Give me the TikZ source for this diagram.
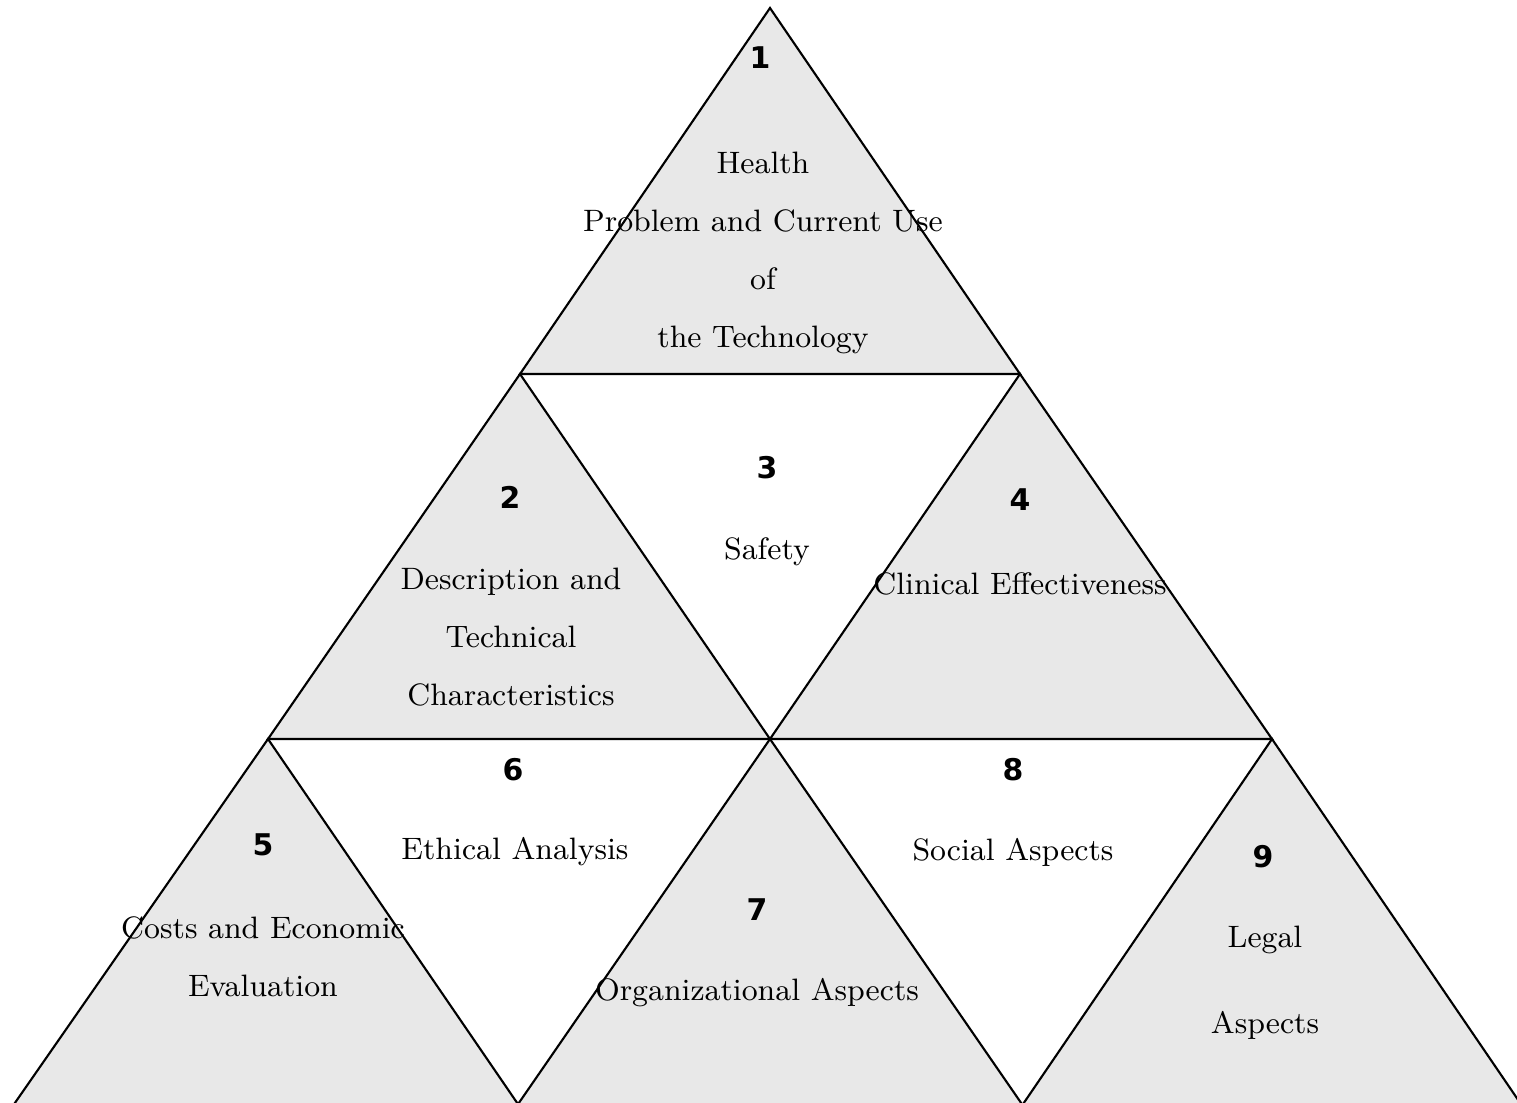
\documentclass[tikz,border=0pt]{standalone}
\usepackage{fontspec}
\newfontfamily\numfont{DejaVu Sans}
\definecolor{partgray}{HTML}{E8E8E8}
\begin{document}
\begin{tikzpicture}[x=0.01cm,y=-0.01cm,
    part/.style={fill=partgray,draw=black,line width=0.6pt},
    num/.style={font=\numfont\bfseries\fontsize{8.5}{11}\selectfont},
    txt/.style={align=center,font=\fontsize{8.8}{16.5}\selectfont}]
    \useasboundingbox (0,0) rectangle (1517,1103);
    \clip (0,0) rectangle (1517,1103);
    % corners of the pyramid
    \coordinate (A) at (770,8);
    \coordinate (B) at (520,374);
    \coordinate (C) at (1020,374);
    \coordinate (D) at (268,739);
    \coordinate (E) at (770,739);
    \coordinate (F) at (1272,739);
    \coordinate (G1) at (10,1110);
    \coordinate (G2) at (522,1110);
    \coordinate (H1) at (514,1110);
    \coordinate (H2) at (1026,1110);
    \coordinate (K1) at (1019,1110);
    \coordinate (K2) at (1525,1110);
    % grey parts
    \draw[part] (A) -- (B) -- (C) -- cycle;
    \draw[part] (B) -- (D) -- (E) -- cycle;
    \draw[part] (C) -- (E) -- (F) -- cycle;
    \draw[part] (D) -- (G1) -- (G2) -- cycle;
    \draw[part] (E) -- (H1) -- (H2) -- cycle;
    \draw[part] (F) -- (K1) -- (K2) -- cycle;
    % numbers and titles
    \node[num] (n1) at (760,58) {1};
    \node[txt] (t1) at (763,253) {Health\\Problem and Current Use\\of\\the Technology};
    \node[num] (n2) at (510,497) {2};
    \node[txt] (t2) at (511,637) {Description and\\Technical\\Characteristics};
    \node[num] (n3) at (767,468) {3};
    \node[txt] (t3) at (767,552) {Safety};
    \node[num] (n4) at (1020,500) {4};
    \node[txt] (t4) at (1020,584) {Clinical Effectiveness};
    \node[num] (n5) at (263,845) {5};
    \node[txt] (t5) at (263,957) {Costs and Economic\\Evaluation};
    \node[num] (n6) at (513,770) {6};
    \node[txt] (t6) at (515,852) {Ethical Analysis};
    \node[num] (n7) at (757,910) {7};
    \node[txt] (t7) at (757,993) {Organizational Aspects};
    \node[num] (n8) at (1013,770) {8};
    \node[txt] (t8) at (1013,852) {Social Aspects};
    \node[num] (n9) at (1263,857) {9};
    \node[txt] (t9) at (1265,983) {Legal\\[8pt]Aspects};
\end{tikzpicture}
\end{document}
